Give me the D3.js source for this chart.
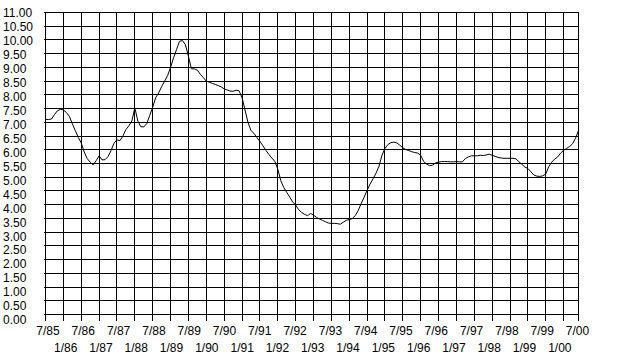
<!DOCTYPE html>
<html>
<head>
<meta charset="utf-8">
<script src="https://cdn.jsdelivr.net/npm/d3@7"></script>
<style>
  body { margin: 0; background: #fff; }
  text { font-family: "Liberation Sans Narrow", "Liberation Sans", Arial, sans-serif; font-size: 12px; fill: #000; }
</style>
</head>
<body>
<svg id="chart" width="625" height="356"></svg>
<script>
// monthly values, first month is 7/85
const startYear = 1985
const startMonth = 7
const values = [
  7.11, 7.10, 7.12, 7.28, 7.42, 7.47, 7.45, 7.36, 7.22, 6.95, 6.70, 6.45,
  6.25, 5.92, 5.68, 5.55, 5.45, 5.60, 5.78, 5.63, 5.64, 5.75, 5.97, 6.24,
  6.36, 6.33, 6.50, 6.74, 6.87, 7.05, 7.53, 7.05, 6.84, 6.83, 6.95, 7.25,
  7.55, 7.90, 8.07, 8.30, 8.50, 8.70, 9.00, 9.35, 9.65, 9.95, 9.98, 9.82,
  9.40, 8.95, 8.95, 8.90, 8.75, 8.63, 8.50, 8.46, 8.42, 8.38, 8.34, 8.29,
  8.22, 8.18, 8.14, 8.13, 8.17, 8.15, 7.90, 7.45, 7.00, 6.70, 6.60, 6.44,
  6.31, 6.15, 5.98, 5.83, 5.70, 5.58, 5.30, 4.88, 4.63, 4.45, 4.28, 4.10,
  3.99, 3.82, 3.72, 3.65, 3.60, 3.68, 3.62, 3.54, 3.48, 3.43, 3.38, 3.33,
  3.32, 3.32, 3.31, 3.29, 3.36, 3.43, 3.46, 3.49, 3.60, 3.78, 4.04, 4.27,
  4.52, 4.75, 4.94, 5.15, 5.40, 5.80, 6.05, 6.19, 6.26, 6.28, 6.25, 6.17,
  6.07, 6.01, 5.97, 5.93, 5.90, 5.88, 5.80, 5.57, 5.48, 5.42, 5.44, 5.52,
  5.55, 5.57, 5.57, 5.57, 5.56, 5.56, 5.57, 5.56, 5.56, 5.68, 5.74, 5.78,
  5.78, 5.78, 5.80, 5.79, 5.81, 5.84, 5.80, 5.76, 5.72, 5.70, 5.69, 5.69,
  5.69, 5.69, 5.67, 5.56, 5.47, 5.37, 5.32, 5.20, 5.08, 5.04, 5.03, 5.05,
  5.12, 5.38, 5.55, 5.66, 5.74, 5.88, 5.98, 6.05, 6.12, 6.22, 6.42, 6.70
]

const yTicks = d3.range(0, 11.01, 0.5)
const xTickLabels = [
  '7/85', '1/86', '7/86', '1/87', '7/87', '1/88', '7/88', '1/89', '7/89', '1/90',
  '7/90', '1/91', '7/91', '1/92', '7/92', '1/93', '7/93', '1/94', '7/94', '1/95',
  '7/95', '1/96', '7/96', '1/97', '7/97', '1/98', '7/98', '1/99', '7/99', '1/00', '7/00'
]

const svg = d3.select('#chart')
const last = values.length - 1

const x = d3.scaleLinear().domain([0, last]).range([45.5, 578.5])
const y = d3.scaleLinear().domain([0, 11]).range([314.5, 12.5])
// the labels sit on a slightly wider spacing than the grid
const yLab = d3.scaleLinear().domain([0, 11]).range([320, 12.8])
const xLab = d3.scaleLinear().domain([0, xTickLabels.length - 1]).range([48, 577.5])

// grid positions: every 6 months plus the last month
const xGrid = d3.range(0, last, 6).concat([last])

const grid = svg.append('g')
  .attr('stroke', '#000')
  .attr('stroke-width', 1)
  .attr('shape-rendering', 'crispEdges')

grid.selectAll('.hline')
  .data(yTicks)
  .join('line')
  .attr('class', 'hline')
  .attr('x1', x(0) - 2)
  .attr('x2', x(last))
  .attr('y1', d => y(d))
  .attr('y2', d => y(d))

grid.selectAll('.vline')
  .data(xGrid)
  .join('line')
  .attr('class', 'vline')
  .attr('x1', d => x(d))
  .attr('x2', d => x(d))
  .attr('y1', y(11))
  .attr('y2', y(0) + 6)

svg.selectAll('.ylab')
  .data(yTicks)
  .join('text')
  .attr('class', 'ylab')
  .attr('x', 3)
  .attr('y', d => yLab(d) + 4.3)
  .text(d => d3.format('.2f')(d))

svg.selectAll('.xlab')
  .data(xTickLabels)
  .join('text')
  .attr('class', 'xlab')
  .attr('text-anchor', 'middle')
  .attr('x', (d, i) => xLab(i))
  .attr('y', (d, i) => i % 2 === 0 ? 335 : 351.5)
  .text(d => d)

const line = d3.line()
  .x((d, i) => x(i))
  .y(d => y(d))

svg.append('path')
  .datum(values)
  .attr('fill', 'none')
  .attr('stroke', '#000')
  .attr('stroke-width', 1)
  .attr('d', line)
</script>
</body>
</html>
